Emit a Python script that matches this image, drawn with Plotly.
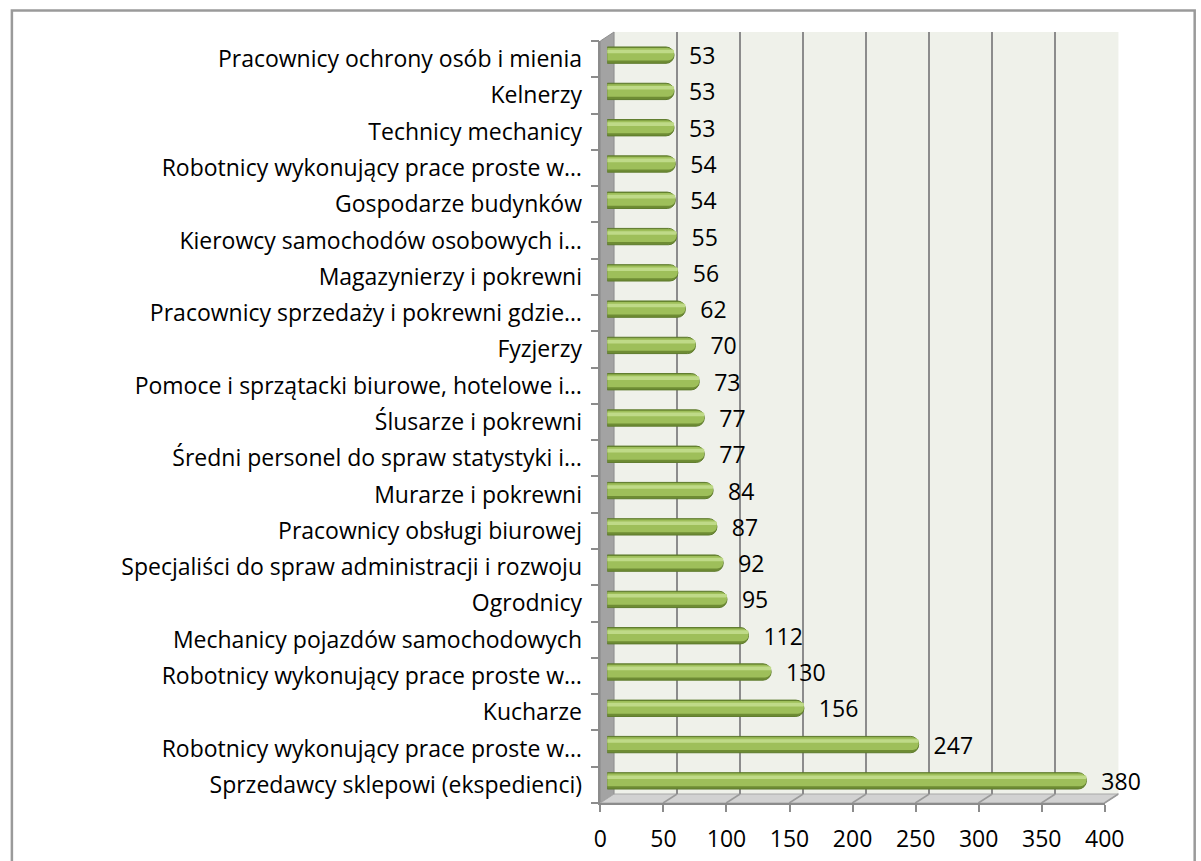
import plotly.graph_objects as go

# ---------------- data (top of chart -> bottom) ----------------
categories = [
    "Pracownicy ochrony osób i mienia",
    "Kelnerzy",
    "Technicy mechanicy",
    "Robotnicy wykonujący prace proste w…",
    "Gospodarze budynków",
    "Kierowcy samochodów osobowych i…",
    "Magazynierzy i pokrewni",
    "Pracownicy sprzedaży i pokrewni gdzie…",
    "Fyzjerzy",
    "Pomoce i sprzątacki biurowe, hotelowe i…",
    "Ślusarze i pokrewni",
    "Średni personel do spraw statystyki i…",
    "Murarze i pokrewni",
    "Pracownicy obsługi biurowej",
    "Specjaliści do spraw administracji i rozwoju",
    "Ogrodnicy",
    "Mechanicy pojazdów samochodowych",
    "Robotnicy wykonujący prace proste w…",
    "Kucharze",
    "Robotnicy wykonujący prace proste w…",
    "Sprzedawcy sklepowi (ekspedienci)",
]
values = [53, 53, 53, 54, 54, 55, 56, 62, 70, 73, 77, 77, 84, 87, 92, 95, 112, 130, 156, 247, 380]
x_ticks = [0, 50, 100, 150, 200, 250, 300, 350, 400]

# ---------------- geometry helpers ----------------
W, H = 1201, 861
n = len(categories)
ypos = [n - 1 - i for i in range(n)]          # top category highest
yrange = [-0.5, n - 0.5]
xrange_ = [x_ticks[0], x_ticks[-1]]

def px(x):
    return x / W

def py(y):
    return 1 - y / H

FONT = "'Open Sans', sans-serif"

# front plane, back plane, bar plane (pixel extents)
FX0, FX1, FY0, FY1 = 607, 1123, 41, 803
DX, DY = 14, -9
BX0, BX1, BY0, BY1 = FX0 + DX, FX1 + DX, FY0 + DY, FY1 + DY
MX0, MX1, MY0, MY1 = FX0 + DX / 2, FX1 + DX / 2, FY0 + DY / 2 + 0.5, FY1 + DY / 2 + 0.5

fig = go.Figure()

# bars (cylinder look with overlaid bars) on x3/y3
fig.add_trace(go.Bar(
    x=values, y=ypos, orientation="h", xaxis="x3", yaxis="y3",
    width=0.45, marker=dict(color="#6E8C34", line=dict(color="#5E7B2C", width=1), cornerradius=8),
    text=values, texttemplate="\u00a0\u00a0%{text}", textposition="outside", constraintext="none",
    textfont=dict(family=FONT, size=23, color="#000000"), cliponaxis=False,
    hoverinfo="skip", showlegend=False,
))
fig.add_trace(go.Bar(
    x=values, y=ypos, orientation="h", xaxis="x3", yaxis="y3",
    width=0.35, offset=-0.15, marker=dict(color="#9EBF5A", line=dict(width=0), cornerradius=6),
    hoverinfo="skip", showlegend=False,
))
fig.add_trace(go.Bar(
    x=values, y=ypos, orientation="h", xaxis="x3", yaxis="y3",
    width=0.10, offset=0.05, marker=dict(color="#BFDA88", line=dict(width=0), cornerradius=3),
    hoverinfo="skip", showlegend=False,
))

# invisible traces to establish the front-axes and back-wall subplots
fig.add_trace(go.Scatter(x=[None], y=[None], xaxis="x2", yaxis="y2", showlegend=False, hoverinfo="skip"))
fig.add_trace(go.Scatter(x=[None], y=[None], xaxis="x", yaxis="y", showlegend=False, hoverinfo="skip"))

shapes = []
# back wall
shapes.append(dict(type="rect", xref="paper", yref="paper", x0=px(BX0), x1=px(BX1), y0=py(BY1), y1=py(BY0),
                   fillcolor="#EFF1EA", line=dict(width=0), layer="below"))
# side wall
shapes.append(dict(type="path", xref="paper", yref="paper",
                   path=f"M {px(FX0)} {py(FY0)} L {px(BX0)} {py(BY0)} L {px(BX0)} {py(BY1)} L {px(FX0)} {py(FY1)} Z",
                   fillcolor="#A3A3A3", line=dict(color="#8E8E8E", width=1), layer="below"))
# floor
shapes.append(dict(type="path", xref="paper", yref="paper",
                   path=f"M {px(FX0)} {py(FY1)} L {px(FX1)} {py(FY1)} L {px(BX1)} {py(BY1)} L {px(BX0)} {py(BY1)} Z",
                   fillcolor="#D2D2D2", line=dict(color="#A8A8A8", width=1), layer="below"))
# floor diagonals tied to the back-wall axis
for v in x_ticks:
    shapes.append(dict(type="line", xref="x", yref="paper", xsizemode="pixel", xanchor=v,
                       x0=-DX, x1=0, y0=py(FY1), y1=py(BY1),
                       line=dict(color="#9A9A9A", width=1.5), layer="below"))
# outer chart frame (continues past the right and bottom edges)
shapes.append(dict(type="rect", xref="paper", yref="paper", x0=px(5), x1=px(1215), y0=py(880), y1=py(10.5),
                   fillcolor="rgba(0,0,0,0)", line=dict(color="#9A9A9A", width=2.5), layer="below"))

fig.update_layout(
    width=W, height=H,
    margin=dict(l=0, r=0, t=0, b=0),
    paper_bgcolor="#FFFFFF", plot_bgcolor="rgba(0,0,0,0)",
    barmode="overlay",
    font=dict(family=FONT, size=23, color="#000000"),
    shapes=shapes,
    # back wall grid
    xaxis=dict(domain=[px(BX0), px(BX1)], range=xrange_, tickvals=x_ticks, showticklabels=False,
               showgrid=True, gridcolor="#8C8C8C", gridwidth=1.5, zeroline=False, showline=False,
               anchor="y", fixedrange=True),
    yaxis=dict(domain=[py(BY1), py(BY0)], range=yrange, visible=False, showgrid=False,
               anchor="x", fixedrange=True),
    # front axes
    xaxis2=dict(domain=[px(FX0), px(FX1)], range=xrange_, tickvals=x_ticks, ticktext=[str(t) for t in x_ticks],
                showgrid=False, zeroline=False, showline=True, linecolor="#8C8C8C", linewidth=1.5,
                ticks="outside", ticklen=7, tickcolor="#8C8C8C", tickwidth=1.5,
                ticklabelstandoff=8, tickfont=dict(family=FONT, size=23, color="#000000"),
                anchor="y2", fixedrange=True),
    yaxis2=dict(domain=[py(FY1), py(FY0)], range=yrange, tickvals=ypos, ticktext=categories,
                showgrid=False, zeroline=False, showline=True, linecolor="#8C8C8C", linewidth=1.5,
                ticks="", ticklabelstandoff=12,
                minor=dict(tickmode="array", tickvals=[k - 0.5 for k in range(n + 1)],
                           ticks="outside", ticklen=8, tickcolor="#8C8C8C", tickwidth=1.5, showgrid=False),
                tickfont=dict(family=FONT, size=23, color="#000000"),
                anchor="x2", fixedrange=True),
    # bars
    xaxis3=dict(domain=[px(MX0), px(MX1)], range=xrange_, visible=False, anchor="y3", fixedrange=True),
    yaxis3=dict(domain=[py(MY1), py(MY0)], range=yrange, visible=False, anchor="x3", fixedrange=True),
)

fig.write_html("out.html", config={"displayModeBar": False},
               post_script="document.body.style.margin='0';")
